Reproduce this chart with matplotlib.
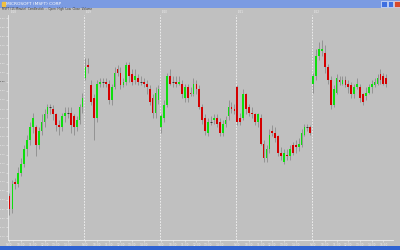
import numpy as np
import matplotlib.pyplot as plt
from matplotlib.patches import Rectangle
import matplotlib.transforms as mtransforms

title = "MICROSOFT (MSFT) CORP"
legend_text = "MSFT (15 Minute)  Candlestick  -  Open  High  Low  Close  Volume"
dates = ["5/18", "5/19", "5/20", "5/21", "5/22"]
times = ["9:30", "10:30", "11:30", "12:30", "13:30", "14:30", "15:30"]
bars_per_day = 26

# 15 minute bars, one row per day
opens = [
    28.92, 28.85, 29.00, 28.99, 29.05, 29.10, 29.18, 29.23, 29.30, 29.30, 29.20, 29.28, 29.33,
    29.37, 29.41, 29.40, 29.37, 29.31, 29.30, 29.36, 29.38, 29.38, 29.36, 29.30, 29.34, 29.41,
    29.57, 29.64, 29.53, 29.46, 29.35, 29.54, 29.55, 29.55, 29.54, 29.45, 29.52, 29.62, 29.60,
    29.53, 29.55, 29.64, 29.59, 29.56, 29.57, 29.55, 29.55, 29.54, 29.51, 29.46, 29.38, 29.45,
    29.30, 29.35, 29.42, 29.58, 29.55, 29.55, 29.54, 29.54, 29.46, 29.52, 29.49, 29.48, 29.54,
    29.51, 29.41, 29.35, 29.27, 29.33, 29.34, 29.35, 29.33, 29.27, 29.32, 29.36, 29.41, 29.40,
    29.52, 29.35, 29.35, 29.48, 29.41, 29.38, 29.37, 29.33, 29.35, 29.21, 29.13, 29.18, 29.28,
    29.27, 29.25, 29.16, 29.11, 29.15, 29.14, 29.20, 29.20, 29.19, 29.20, 29.26, 29.30, 29.30,
    29.54, 29.58, 29.69, 29.72, 29.71, 29.63, 29.56, 29.42, 29.49, 29.56, 29.54, 29.56, 29.54,
    29.53, 29.48, 29.52, 29.52, 29.48, 29.47, 29.49, 29.52, 29.53, 29.54, 29.59, 29.58, 29.57,
]
closes = [
    28.85, 28.99, 28.99, 29.05, 29.10, 29.18, 29.23, 29.30, 29.35, 29.20, 29.28, 29.33, 29.37,
    29.41, 29.41, 29.37, 29.31, 29.30, 29.36, 29.38, 29.38, 29.31, 29.30, 29.34, 29.41, 29.46,
    29.63, 29.63, 29.44, 29.35, 29.54, 29.55, 29.55, 29.54, 29.45, 29.52, 29.60, 29.60, 29.53,
    29.55, 29.64, 29.58, 29.55, 29.58, 29.55, 29.55, 29.54, 29.52, 29.44, 29.38, 29.49, 29.51,
    29.36, 29.42, 29.58, 29.54, 29.55, 29.54, 29.55, 29.48, 29.52, 29.46, 29.48, 29.54, 29.51,
    29.41, 29.34, 29.28, 29.33, 29.33, 29.35, 29.32, 29.27, 29.32, 29.34, 29.41, 29.40, 29.39,
    29.33, 29.33, 29.48, 29.40, 29.38, 29.37, 29.33, 29.37, 29.21, 29.13, 29.18, 29.26, 29.27,
    29.24, 29.16, 29.14, 29.16, 29.14, 29.18, 29.16, 29.19, 29.21, 29.27, 29.30, 29.30, 29.27,
    29.58, 29.69, 29.73, 29.73, 29.63, 29.56, 29.42, 29.51, 29.57, 29.55, 29.56, 29.53, 29.52,
    29.48, 29.52, 29.54, 29.46, 29.44, 29.49, 29.52, 29.54, 29.55, 29.57, 29.56, 29.54, 29.54,
]
highs = [
    28.94, 29.01, 29.02, 29.08, 29.13, 29.20, 29.26, 29.33, 29.38, 29.31, 29.30, 29.37, 29.40,
    29.43, 29.43, 29.42, 29.38, 29.34, 29.38, 29.41, 29.41, 29.41, 29.37, 29.36, 29.43, 29.49,
    29.68, 29.68, 29.56, 29.48, 29.56, 29.57, 29.57, 29.57, 29.56, 29.54, 29.63, 29.64, 29.63,
    29.57, 29.66, 29.66, 29.62, 29.62, 29.59, 29.58, 29.57, 29.56, 29.53, 29.48, 29.52, 29.53,
    29.37, 29.45, 29.60, 29.62, 29.58, 29.58, 29.58, 29.56, 29.54, 29.54, 29.52, 29.57, 29.56,
    29.53, 29.43, 29.37, 29.35, 29.36, 29.37, 29.37, 29.35, 29.34, 29.36, 29.45, 29.44, 29.43,
    29.53, 29.38, 29.51, 29.49, 29.43, 29.41, 29.38, 29.38, 29.37, 29.23, 29.20, 29.29, 29.31,
    29.30, 29.26, 29.19, 29.18, 29.18, 29.20, 29.22, 29.23, 29.24, 29.29, 29.32, 29.32, 29.31,
    29.60, 29.73, 29.77, 29.78, 29.75, 29.65, 29.58, 29.53, 29.59, 29.58, 29.58, 29.58, 29.56,
    29.55, 29.54, 29.57, 29.54, 29.49, 29.52, 29.54, 29.56, 29.57, 29.59, 29.62, 29.60, 29.59,
]
lows = [
    28.82, 28.83, 28.96, 28.97, 29.03, 29.08, 29.14, 29.20, 29.27, 29.14, 29.18, 29.26, 29.30,
    29.35, 29.37, 29.34, 29.28, 29.26, 29.28, 29.33, 29.35, 29.27, 29.26, 29.28, 29.32, 29.38,
    29.56, 29.60, 29.42, 29.23, 29.33, 29.52, 29.52, 29.52, 29.43, 29.42, 29.51, 29.58, 29.51,
    29.52, 29.53, 29.55, 29.53, 29.54, 29.53, 29.53, 29.52, 29.48, 29.42, 29.35, 29.35, 29.43,
    29.27, 29.33, 29.41, 29.53, 29.52, 29.52, 29.53, 29.46, 29.44, 29.44, 29.47, 29.47, 29.48,
    29.40, 29.32, 29.26, 29.25, 29.31, 29.32, 29.30, 29.25, 29.25, 29.30, 29.34, 29.38, 29.37,
    29.31, 29.31, 29.34, 29.37, 29.36, 29.35, 29.31, 29.30, 29.20, 29.11, 29.11, 29.16, 29.25,
    29.22, 29.14, 29.12, 29.10, 29.12, 29.12, 29.15, 29.16, 29.17, 29.19, 29.25, 29.28, 29.26,
    29.49, 29.56, 29.67, 29.69, 29.60, 29.54, 29.40, 29.41, 29.48, 29.53, 29.53, 29.52, 29.49,
    29.46, 29.46, 29.51, 29.44, 29.42, 29.45, 29.48, 29.49, 29.52, 29.53, 29.54, 29.53, 29.52,
]

bg = '#c0c0c0'
light = '#eeeeee'

o = np.array(opens)
c = np.array(closes)
h = np.array(highs)
l = np.array(lows)
x = np.arange(len(o))
n_days = len(dates)

fig = plt.figure(figsize=(4, 2.5), dpi=100, facecolor=bg)
ax = fig.add_axes([8 / 400, 10 / 250, 385 / 400, 225 / 250])
ax.set_facecolor(bg)

# wicks then bodies
ax.vlines(x, l, h, color='#8c8c8c', lw=0.6, zorder=2)
up = c > o
down = c < o
flat = c == o
ax.bar(x[up], c[up] - o[up], bottom=o[up], width=0.6, color='#0ede0e', linewidth=0, zorder=3)
ax.bar(x[down], o[down] - c[down], bottom=c[down], width=0.6, color='#d40000', linewidth=0, zorder=3)
ax.hlines(c[flat], x[flat] - 0.35, x[flat] + 0.35, color='#333333', lw=0.7, zorder=3)

ax.set_xlim(-0.5, 131.3)
ax.set_ylim(28.68, 29.917)

# day separators
for d in range(1, n_days):
    ax.axvline(d * bars_per_day - 0.5, color='#f4f4f4', lw=0.6, ls=(0, (2, 1.5)), zorder=1)

trans = mtransforms.blended_transform_factory(ax.transData, ax.transAxes)
for d in range(n_days):
    ax.text(d * bars_per_day + 0.3, 1.003, dates[d], transform=trans, fontsize=2,
            color=light, va='bottom', ha='left')

for side in ['top', 'right']:
    ax.spines[side].set_visible(False)
for side in ['left', 'bottom']:
    ax.spines[side].set_color(light)
    ax.spines[side].set_linewidth(0.6)

# price axis
yt = np.arange(28.70, 29.91, 0.05)
ax.set_yticks(yt)
ax.set_yticklabels([f"{v:.2f}" for v in yt])
ax.tick_params(axis='y', labelsize=1.7, colors=light, length=1.2, width=0.4, pad=0.2)
last = int(np.argmin(np.abs(yt - c[-1])))
ax.get_yticklabels()[last].set_color('#4a4a4a')

# time axis
tick_pos = []
tick_lab = []
for d in range(n_days):
    n_lab = len(times) if d == n_days - 1 else len(times) - 1
    for k in range(n_lab):
        tick_pos.append(d * bars_per_day + 4 * k)
        tick_lab.append(times[k])
ax.set_xticks(tick_pos)
ax.set_xticklabels(tick_lab)
ax.set_xticks(np.arange(0, len(o), 2), minor=True)
ax.tick_params(axis='x', labelsize=2.1, colors=light, length=1.5, width=0.4, pad=0.6)
ax.tick_params(axis='x', which='minor', colors=light, length=0.8, width=0.3)

# window title bar
tb = fig.add_axes([0, 1 - 8 / 250, 1, 8 / 250])
tb.set_facecolor('#7b9be2')
tb.set_xlim(0, 400)
tb.set_ylim(0, 8)
tb.set_xticks([])
tb.set_yticks([])
for s in tb.spines.values():
    s.set_visible(False)
tb.text(6, 4, title, fontsize=3.2, color='white', va='center', ha='left')
tb.add_patch(Rectangle((1.5, 1.8), 3, 4, color='#f0c040'))
for bx, col in [(381, '#3f6fe0'), (387.5, '#3f6fe0'), (394, '#d8482c')]:
    tb.add_patch(Rectangle((bx, 1), 5.5, 6, facecolor=col, edgecolor='white', lw=0.4))

fig.text(2 / 400, 1 - 9.3 / 250, legend_text, fontsize=2, color='#333333', va='center', ha='left')

# bottom task bar
bb = fig.add_axes([0, 0, 1, 4 / 250])
bb.set_facecolor('#2f63d2')
bb.set_xticks([])
bb.set_yticks([])
for s in bb.spines.values():
    s.set_visible(False)

fig.savefig('out.png', dpi=100, facecolor=bg)
